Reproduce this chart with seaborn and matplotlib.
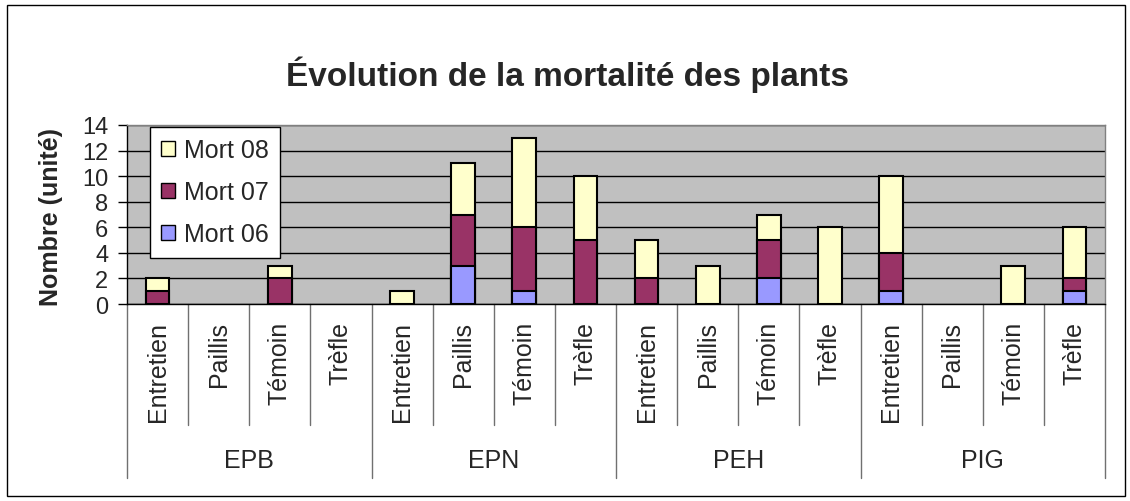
import numpy as np
import pandas as pd
import seaborn as sns
import matplotlib.pyplot as plt
import matplotlib.transforms as mtransforms
from matplotlib.patches import Rectangle, Patch

sites = ["EPB", "EPN", "PEH", "PIG"]
traitements = ["Entretien", "Paillis", "Témoin", "Trèfle"]

mort06 = [0, 0, 0, 0, 0, 3, 1, 0, 0, 0, 2, 0, 1, 0, 0, 1]
mort07 = [1, 0, 2, 0, 0, 4, 5, 5, 2, 0, 3, 0, 3, 0, 0, 1]
mort08 = [1, 0, 1, 0, 1, 4, 7, 5, 3, 3, 2, 6, 6, 0, 3, 4]

cats = [f"{s} {t}" for s in sites for t in traitements]
df = pd.DataFrame({"cat": cats, "m06": mort06, "m07": mort07, "m08": mort08})
# cumulated heights for stacking (drawn back to front), empty bars not drawn
df["c06"] = df["m06"]
df["c07"] = df["m06"] + df["m07"]
df["c08"] = df["m06"] + df["m07"] + df["m08"]
for c in ["c06", "c07", "c08"]:
    df[c] = df[c].replace(0, np.nan)

sns.set_style("white")
plt.rcParams["font.family"] = ["Liberation Sans", "DejaVu Sans"]

W, H = 1130, 502
fig = plt.figure(figsize=(W / 100, H / 100), dpi=100)
ax = fig.add_axes([127 / W, 1 - 305 / H, (1105 - 127) / W, (305 - 126) / H])
ax.set_facecolor("#C0C0C0")

colors = {"c08": "#FFFFCC", "c07": "#993366", "c06": "#9999FF"}
for col in ["c08", "c07", "c06"]:
    sns.barplot(data=df, x="cat", y=col, order=cats, color=colors[col], saturation=1,
                width=0.39, edgecolor="black", linewidth=1.5, errorbar=None, ax=ax, zorder=3)

ax.set_ylim(0, 14)
ax.set_xlim(-0.5, len(cats) - 0.5)
ax.set_yticks(range(0, 15, 2))
ax.yaxis.grid(True, color="black", lw=1)
ax.set_axisbelow(True)
ax.tick_params(axis="y", direction="out", length=6.5, width=1, color="black", labelsize=17, pad=7, left=True)
ax.set_xticks(range(len(cats)))
ax.set_xticklabels([""] * len(cats))
ax.tick_params(axis="x", length=0)
ax.set_xlabel("")
ax.set_ylabel("")
for side in ["left", "bottom"]:
    ax.spines[side].set_color("black")
    ax.spines[side].set_linewidth(1)
for side in ["top", "right"]:
    ax.spines[side].set_color("#808080")
    ax.spines[side].set_linewidth(1)

# category axis: treatment labels, separators, site labels
trans = mtransforms.blended_transform_factory(ax.transData, ax.transAxes)
ah = (305 - 126)
for i, c in enumerate(cats):
    t = c.split(" ", 1)[1]
    ax.text(i, (305 - 322) / ah, t, rotation=90, ha="center", va="top",
            fontsize=18, transform=trans)
for i in range(len(cats) + 1):
    x = i - 0.5
    bottom = (305 - 479) / ah if i % 4 == 0 else (305 - 426) / ah
    ax.plot([x, x], [0, bottom], color="#707070", lw=1, transform=trans, clip_on=False)
for k, s in enumerate(sites):
    ax.text(k * 4 + 1.5, (305 - 461) / ah, s, ha="center", va="center",
            fontsize=18, transform=trans)

handles = [Patch(facecolor=colors["c08"], edgecolor="black", label="Mort 08"),
           Patch(facecolor=colors["c07"], edgecolor="black", label="Mort 07"),
           Patch(facecolor=colors["c06"], edgecolor="black", label="Mort 06")]
leg = ax.legend(handles=handles, loc="upper left", bbox_to_anchor=(150 / W, 1 - 128 / H),
                bbox_transform=fig.transFigure, borderaxespad=0, fancybox=False,
                edgecolor="black", framealpha=1, fontsize=18, handlelength=0.56,
                handleheight=0.56, handletextpad=0.36, labelspacing=0.72, borderpad=0.45)
leg.get_frame().set_linewidth(1)

fig.text(567 / W, 1 - 75 / H, "Évolution de la mortalité des plants", ha="center", va="center",
         fontsize=24, fontweight="bold")
fig.text(51 / W, 1 - 217 / H, "Nombre (unité)", rotation=90, ha="center", va="center",
         fontsize=18, fontweight="bold")

fig.add_artist(Rectangle((7 / W, 1 - 497 / H), (1125 - 7) / W, (497 - 6) / H,
                         transform=fig.transFigure, fill=False, edgecolor="black", lw=1))

fig.savefig("out.png", dpi=100)
